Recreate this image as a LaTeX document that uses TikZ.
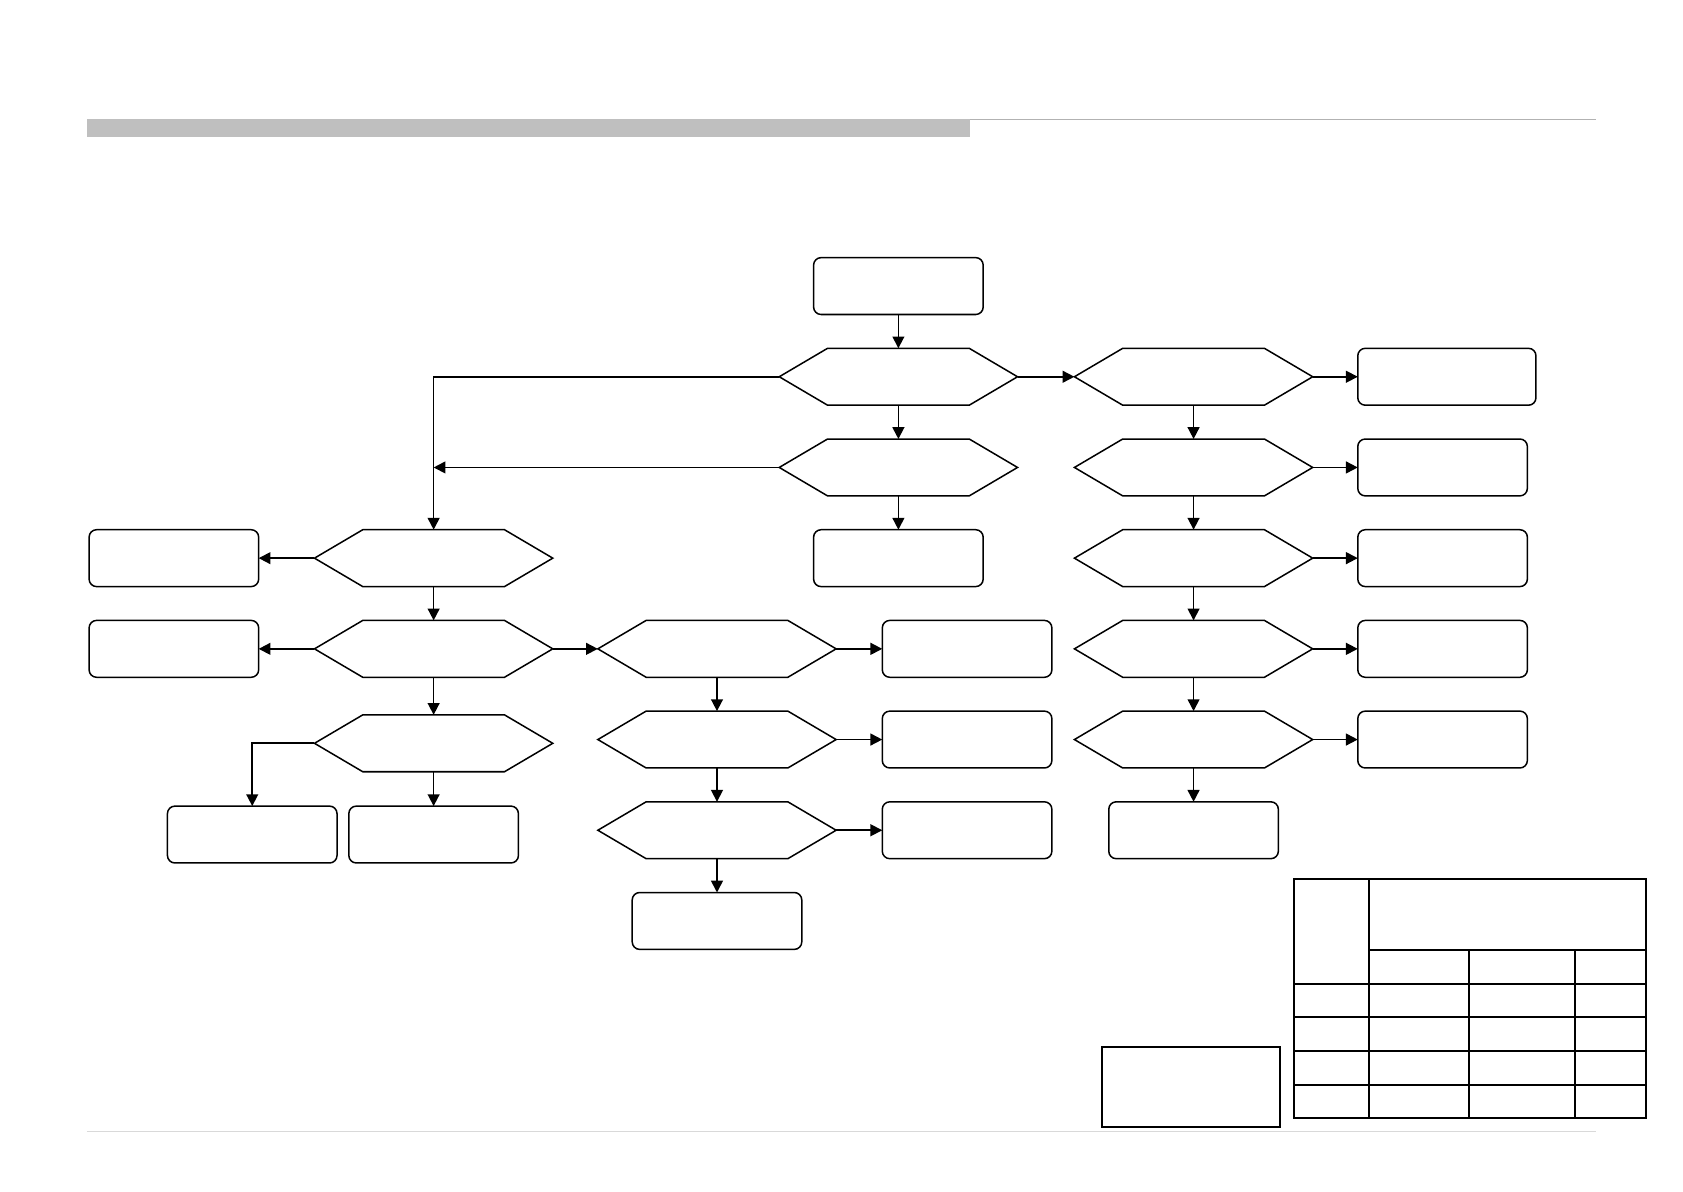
\documentclass[tikz,border=0pt]{standalone}
\usepackage{xcolor}
\usepackage{tikz}
\usetikzlibrary{arrows.meta,positioning,calc}
\tikzset{
  stepbox/.style={
    rectangle, rounded corners=3.5pt, draw=black, line width=0.7pt,
    minimum width=79pt, minimum height=26.5pt, inner sep=0pt, outer sep=0pt
  },
  widebox/.style={stepbox, minimum width=83pt},
  hexline/.style={draw=black, line width=0.7pt, line join=miter},
  decision/.style={
    rectangle, minimum width=111pt, minimum height=26.5pt, inner sep=0pt, outer sep=0pt,
    append after command={\pgfextra{
      \draw[hexline] (\tikzlastnode.west)
        -- ([xshift=22.5pt]\tikzlastnode.north west)
        -- ([xshift=-22.5pt]\tikzlastnode.north east)
        -- (\tikzlastnode.east)
        -- ([xshift=-22.5pt]\tikzlastnode.south east)
        -- ([xshift=22.5pt]\tikzlastnode.south west) -- cycle;}}
  },
  flowarrow/.style={-{Triangle[length=5.5pt,width=5.5pt]}, line width=0.8pt, draw=black},
  tableline/.style={line width=1pt, draw=black},
}
\begin{document}
\begin{tikzpicture}[x=0.5pt, y=-0.5pt, node distance=15.75pt and 21pt]
  \useasboundingbox (0,0) rectangle (1568,1110);
  % page header and footer
  \fill[gray!50] (81,111) rectangle (904,128);
  \draw[gray!60, line width=0.6pt] (904,111) -- (1487,111);
  \draw[gray!30, line width=0.6pt] (81,1054) -- (1487,1054);

  % centre column
  \node (c0) [stepbox] at (837,266.5) {};
  \node (c1) [decision, below=of c0] {};
  \node (c2) [decision, below=of c1] {};
  \node (c3) [stepbox, below=of c2] {};
  \draw[flowarrow] (c0)--(c1); \draw[flowarrow] (c1)--(c2);
  \draw[flowarrow] (c2)--(c3);

  % right column
  \node (r1) [decision, right=26.5pt of c1] {};
  \node (r2) [decision, below=of r1] {};
  \node (r3) [decision, below=of r2] {};
  \node (r4) [decision, below=of r3] {};
  \node (r5) [decision, below=of r4] {};
  \node (r6) [stepbox, below=of r5] {};
  \node (rb1) [widebox, right=of r1] {};
  \node (rb2) [stepbox, right=of r2] {};
  \node (rb3) [stepbox, right=of r3] {};
  \node (rb4) [stepbox, right=of r4] {};
  \node (rb5) [stepbox, right=of r5] {};
  \draw[flowarrow] (c1)--(r1);
  \draw[flowarrow] (r1)--(r2); \draw[flowarrow] (r2)--(r3);
  \draw[flowarrow] (r3)--(r4); \draw[flowarrow] (r4)--(r5);
  \draw[flowarrow] (r5)--(r6);
  \draw[flowarrow] (r1)--(rb1); \draw[flowarrow] (r2)--(rb2);
  \draw[flowarrow] (r3)--(rb3); \draw[flowarrow] (r4)--(rb4);
  \draw[flowarrow] (r5)--(rb5);

  % left column
  \node (l1) [decision] at (404,520) {};
  \node (l2) [decision, below=of l1] {};
  \node (l3) [decision, below=17.5pt of l2] {};
  \node (lb1) [stepbox, left=26pt of l1] {};
  \node (lb2) [stepbox, left=26pt of l2] {};
  \node (lb4) [stepbox, below=16pt of l3] {};
  \node (lb3) [stepbox, left=5.5pt of lb4] {};
  \draw[flowarrow] (c1.west) -| (l1.north);
  \draw[flowarrow] (c2.west) -- (c2.west -| l1.north);
  \draw[flowarrow] (l1)--(lb1); \draw[flowarrow] (l2)--(lb2);
  \draw[flowarrow] (l1)--(l2); \draw[flowarrow] (l2)--(l3);
  \draw[flowarrow] (l3)--(lb4);
  \draw[flowarrow] (l3.west) -| (lb3.north);

  % middle column
  \node (m1) [decision, right=of l2] {};
  \node (m2) [decision, below=of m1] {};
  \node (m3) [decision, below=of m2] {};
  \node (m4) [stepbox, below=of m3] {};
  \node (mb1) [stepbox, right=21.5pt of m1] {};
  \node (mb2) [stepbox, right=21.5pt of m2] {};
  \node (mb3) [stepbox, right=21.5pt of m3] {};
  \draw[flowarrow] (l2)--(m1);
  \draw[flowarrow] (m1)--(m2); \draw[flowarrow] (m2)--(m3);
  \draw[flowarrow] (m3)--(m4);
  \draw[flowarrow] (m1)--(mb1); \draw[flowarrow] (m2)--(mb2);
  \draw[flowarrow] (m3)--(mb3);

  % note box and title block
  \draw[tableline] (1026.4,975.2) rectangle (1192.6,1049.7);
  \draw[tableline] (1205.6,819) rectangle (1533.6,1041.4);
  \draw[tableline] (1275.2,819) -- (1275.2,1041.4);
  \draw[tableline] (1275.2,885.1) -- (1533.6,885.1);
  \foreach \y in {916.5,947.3,979.2,1010.9}
    \draw[tableline] (1205.6,\y) -- (1533.6,\y);
  \foreach \x in {1368.7,1467.4}
    \draw[tableline] (\x,885.1) -- (\x,1041.4);
\end{tikzpicture}
\end{document}
